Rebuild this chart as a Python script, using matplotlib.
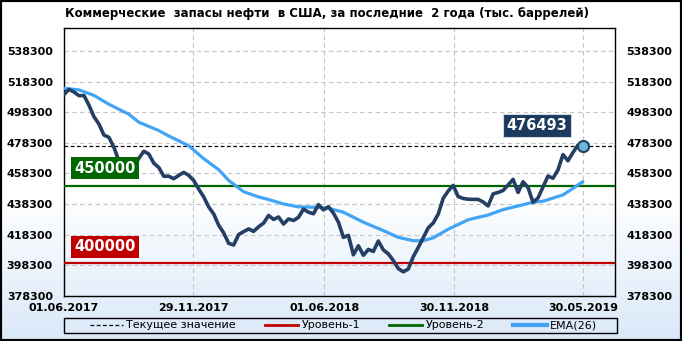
import numpy as np
import pandas as pd
import matplotlib
matplotlib.use('Agg')
import matplotlib.pyplot as plt
from matplotlib.patches import Rectangle
from matplotlib.lines import Line2D

# ---------------- data ----------------
title = "Коммерческие  запасы нефти  в США, за последние  2 года (тыс. баррелей)"
start_date = "2017-06-01"
stocks = [
    509900, 513200, 511500, 509100, 509200, 502900, 495400, 490600, 483400, 481900,
    475400, 466500, 463200, 457800, 462400, 468200, 472800, 471000, 465000, 462200,
    456500, 456500, 454900, 457100, 459000, 457100, 453700, 448100, 443000, 436500,
    431900, 424500, 419500, 412700, 411600, 418400, 420300, 422100, 420500, 423500,
    425900, 430900, 428300, 429900, 425300, 428600, 427600, 429700, 435000, 433000,
    432000, 438000, 434500, 436600, 432400, 426500, 416600, 417900, 405200, 411100,
    404900, 408700, 407400, 414200, 408400, 405800, 401500, 396200, 394100, 395900,
    404000, 410000, 416400, 422800, 426000, 431800, 442100, 446900, 450500, 443200,
    442000, 441500, 441400, 441400, 439700, 437100, 445000, 445900, 447200, 450800,
    454500, 445900, 452900, 449100, 439500, 442300, 449500, 456600, 455200, 460600,
    470600, 466600, 472000, 476800, 476493,
]
ema_weeks = [0, 3, 6, 9, 13, 15, 19, 21, 25, 28, 31, 33, 36, 39, 41, 44, 47, 51, 53,
             56, 60, 64, 67, 70, 72, 74, 77, 80, 81, 85, 88, 92, 94, 96, 100, 102, 104]
ema_values = [513900, 512900, 509300, 503500, 497000, 491800, 486300, 482800, 476400,
              468000, 460800, 453800, 446400, 443000, 441300, 438400, 436500, 436200,
              435600, 433000, 426500, 421000, 416600, 414400, 414400, 416300, 421900,
              426500, 428100, 431200, 434700, 437900, 439500, 440200, 444300, 448600,
              453000]
level1 = 400000
level2 = 450000
current = 476493
yticks = list(range(378300, 538301, 20000))
xtick_labels = ["01.06.2017", "29.11.2017", "01.06.2018", "30.11.2018", "30.05.2019"]
legend_labels = ["Текущее значение", "Уровень-1", "Уровень-2", "EMA(26)"]

# ---------------- derived ----------------
start = pd.Timestamp(start_date)
dates = pd.date_range(start, periods=len(stocks), freq="7D")
ema_dates = [start + pd.Timedelta(weeks=w) for w in ema_weeks]
xtick_dates = pd.to_datetime(xtick_labels, format="%d.%m.%Y")

W, H = 682, 341
fig = plt.figure(figsize=(W / 100, H / 100), dpi=100)

# background gradient
bg = fig.add_axes([0, 0, 1, 1], zorder=-10)
rows = np.arange(H)
t = np.clip((rows - 195) / (H - 195), 0, 1)[:, None]
top = np.array([1.0, 1.0, 1.0])
bot = np.array([0.855, 0.91, 0.975])
img = (top * (1 - t) + bot * t)[:, None, :]
bg.imshow(img, aspect="auto", extent=[0, 1, 0, 1])
bg.axis("off")

ax = fig.add_axes([64 / W, 45 / H, 551 / W, 268 / H])
ax.patch.set_alpha(0)

C_DATA = "#243f63"
C_EMA = "#41a4f4"
C_RED = "#c00000"
C_GREEN = "#006600"

ax.axhline(level1, color=C_RED, lw=1.6, zorder=3)
ax.axhline(level2, color=C_GREEN, lw=1.6, zorder=3)
ax.axhline(current, color="black", lw=0.9, ls=(0, (3, 2)), zorder=3)
ax.plot(ema_dates, ema_values, color=C_EMA, lw=2.3, zorder=4, solid_capstyle="round")
ax.plot(dates, stocks, color=C_DATA, lw=2.6, zorder=5, solid_joinstyle="round")
ax.plot(dates[-1], stocks[-1], "o", ms=8, mfc="#6ab9d6", mec=C_DATA, mew=1.5, zorder=6)

x0 = start
x1 = start + pd.Timedelta(days=773)
ax.set_xlim(x0, x1)
ax.set_ylim(378300, 553300)
ax.set_yticks(yticks)
ax.set_yticklabels([str(v) for v in yticks])
ax.set_xticks(xtick_dates)
ax.set_xticklabels(xtick_labels)
ax.tick_params(axis="y", length=0, pad=8, labelleft=True, labelright=True, labelsize=8)
ax.tick_params(axis="x", length=0, pad=5, labelsize=8)
for lab in ax.get_xticklabels():
    lab.set_fontweight("bold")
for tk in ax.yaxis.get_major_ticks():
    tk.label1.set_fontweight("bold")
    tk.label2.set_fontweight("bold")
ax.grid(True, color="#c4c4c4", ls=(0, (4, 3)), lw=0.8, zorder=1)
for s in ax.spines.values():
    s.set_color("black")
    s.set_linewidth(1)

box_kw = dict(ha="center", va="center", color="white", fontsize=10.5, fontweight="bold",
              transform=ax.transAxes, zorder=7)
ax.text(0.0744, 0.4776, str(level2), bbox=dict(boxstyle="square,pad=0.25", fc=C_GREEN, ec="none"), **box_kw)
ax.text(0.0744, 0.183, str(level1), bbox=dict(boxstyle="square,pad=0.25", fc=C_RED, ec="none"), **box_kw)
ax.text(0.858, 0.636, str(current), bbox=dict(boxstyle="square,pad=0.25", fc="#1b3a5e", ec="#d0d8e0", lw=0.8), **box_kw)

fig.text(327 / W, 1 - 13 / H, title, ha="center", va="center", fontsize=8.5, fontweight="bold")

# legend
fig.patches.append(Rectangle((64 / W, (H - 333) / H), 553 / W, 15 / H, transform=fig.transFigure,
                             fill=False, ec="black", lw=1))
handles = [Line2D([], [], color="black", lw=0.9, ls=(0, (3, 2))),
           Line2D([], [], color=C_RED, lw=2),
           Line2D([], [], color=C_GREEN, lw=2),
           Line2D([], [], color=C_EMA, lw=3)]
fig.legend(handles, legend_labels, loc="center", bbox_to_anchor=(343.5 / W, (H - 325.5) / H),
           ncol=4, frameon=False, fontsize=8, handlelength=3, handletextpad=0.3,
           columnspacing=2.6, borderpad=0, borderaxespad=0)

# outer border
fig.patches.append(Rectangle((0, 0), 1, 1, transform=fig.transFigure, fill=False, ec="black", lw=3))

fig.savefig("out.png", dpi=100)
